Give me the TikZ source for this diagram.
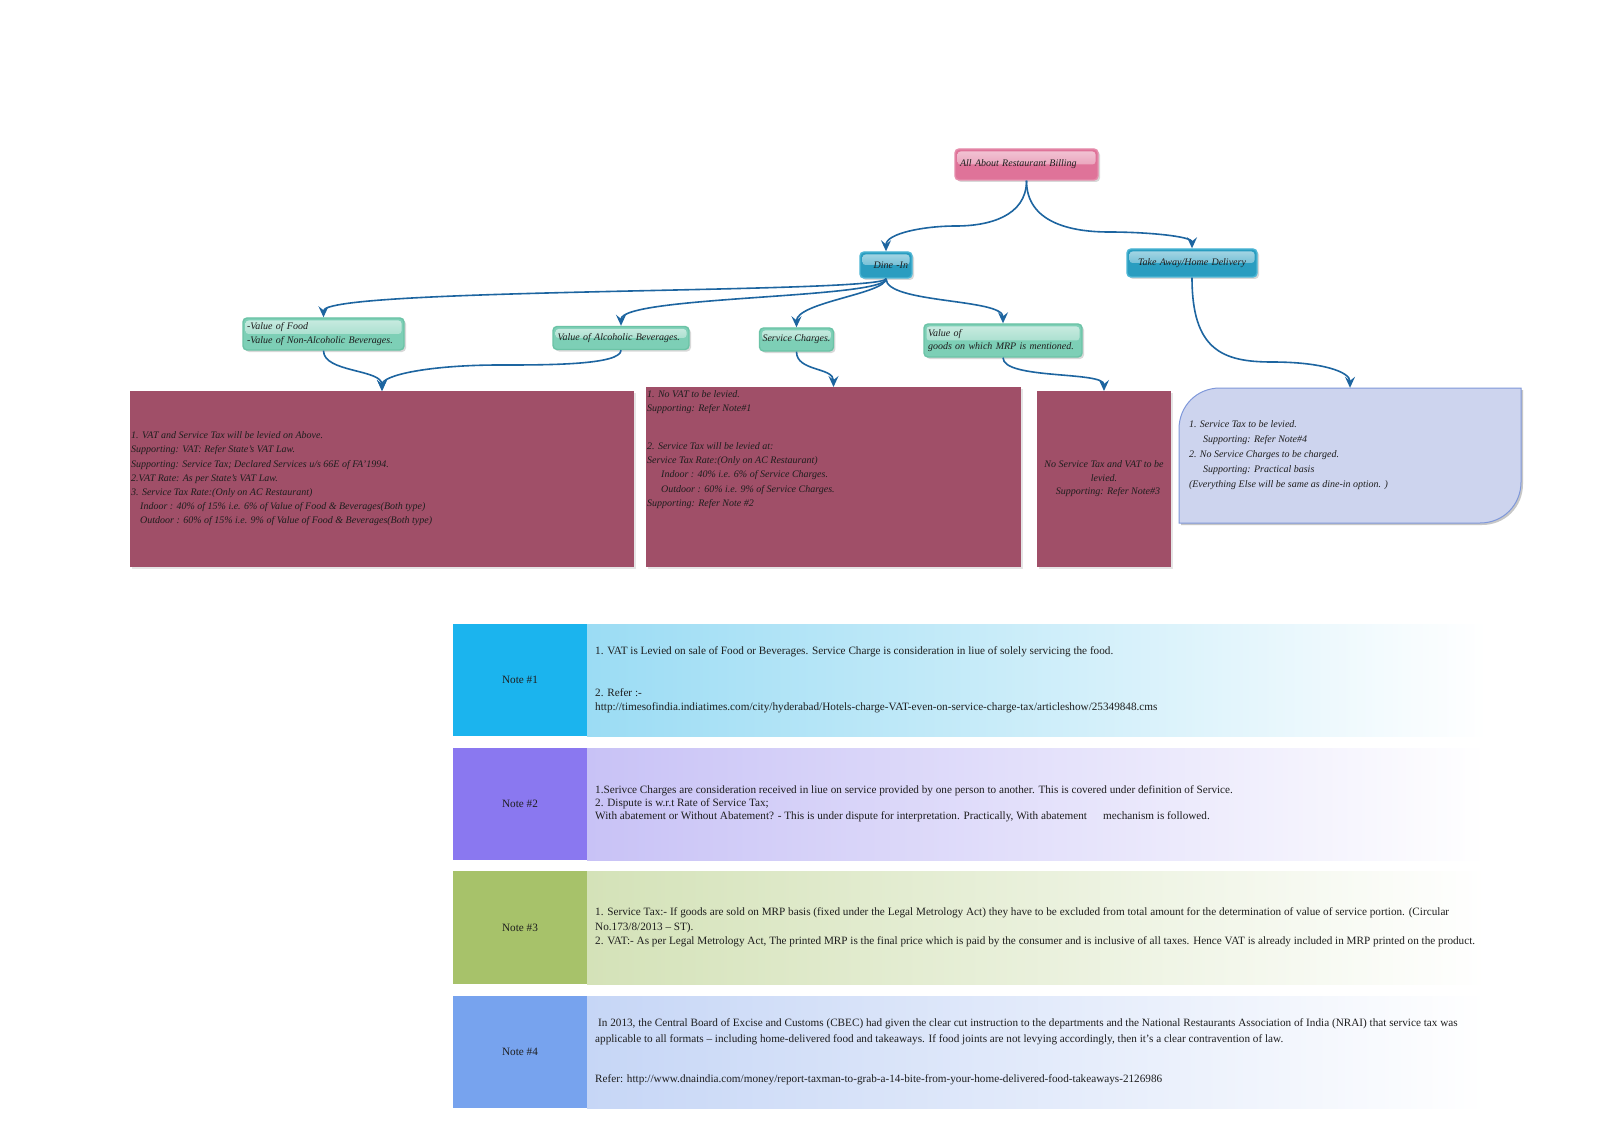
\documentclass[tikz,border=0pt]{standalone}
\usepackage{fontspec}
\setmainfont{Liberation Serif}
\usetikzlibrary{arrows.meta,shadows,calc}
\definecolor{rootf}{HTML}{DF7399}
\definecolor{rootd}{HTML}{E68DAC}
\definecolor{tealf}{HTML}{2A9DC0}
\definecolor{teald}{HTML}{4CB6D5}
\definecolor{greenf}{HTML}{7DCFB6}
\definecolor{greend}{HTML}{6BC3A6}
\definecolor{maroonc}{HTML}{A04F68}
\definecolor{bluef}{HTML}{CDD4EE}
\definecolor{blued}{HTML}{7F98DA}
\definecolor{arrowc}{HTML}{1D65A0}
\definecolor{nAc}{HTML}{1BB4EE}
\definecolor{nAg}{HTML}{9BDCF4}
\definecolor{nBc}{HTML}{8A78F0}
\definecolor{nBg}{HTML}{C8C2F6}
\definecolor{nCc}{HTML}{A7C26A}
\definecolor{nCg}{HTML}{D4E2B8}
\definecolor{nDc}{HTML}{77A3EE}
\definecolor{nDg}{HTML}{C6D6F6}
\definecolor{txt}{HTML}{1E1E1E}
\begin{document}
\begin{tikzpicture}[x=1pt,y=-1pt,
  conn/.style={draw=arrowc, line width=1.6pt, -{Stealth[length=11pt,width=10pt,inset=4pt]}},
  gloss/.style={path picture={\shade[top color=white!60!#1, bottom color=white!12!#1, rounded corners=3pt] ([xshift=2.5pt,yshift=-2.5pt]path picture bounding box.north west) rectangle ([xshift=-2.5pt]path picture bounding box.east);}},
  bubble/.style={rounded corners=4pt, line width=1.4pt, inner xsep=4pt, inner ysep=0pt,
     font=\fontsize{10}{13}\selectfont\itshape, text=txt,
     drop shadow={shadow xshift=2pt,shadow yshift=-2pt,opacity=0.3}},
  rootbox/.style={bubble, fill=rootf, draw=rootd, gloss=rootf},
  tealbox/.style={bubble, fill=tealf, draw=teald, gloss=tealf},
  greenbox/.style={bubble, fill=greenf, draw=greend, gloss=greenf},
  maroonbox/.style={fill=maroonc, draw=none, inner sep=0pt, outer sep=0pt,
     drop shadow={shadow xshift=2pt,shadow yshift=-2pt,opacity=0.2}},
  boxtext/.style={inner sep=0pt, text=txt, font=\fontsize{10}{14.2}\selectfont\itshape, align=left},
  notelabel/.style={inner sep=0pt, outer sep=0pt, text=txt, font=\fontsize{11.2}{13}\selectfont,
     minimum width=134pt, minimum height=112pt},
  notebody/.style={inner sep=0pt, outer sep=0pt, minimum width=900pt, minimum height=112pt, anchor=west},
  notetext/.style={inner sep=0pt, text=txt, align=left, anchor=west}
]
\useasboundingbox (0,0) rectangle (1600,1131);
\fill[white] (0,0) rectangle (1600,1131);

% --- tree nodes
\node[rootbox, minimum width=143pt, minimum height=31pt, text width=133pt, align=left] (root) at (1026.5,164.5) {All About Restaurant Billing};
\node[tealbox, minimum width=52pt, minimum height=26pt, text width=44pt, align=right] (dine) at (886,265) {Dine -In};
\node[tealbox, minimum width=130pt, minimum height=28pt, text width=122pt, align=center] (take) at (1192,263) {Take Away/Home Delivery};

\node[greenbox, minimum width=161pt, minimum height=32pt, text width=153pt, align=left, font=\fontsize{10}{14}\selectfont\itshape] (n1) at (323.5,334) {-Value of Food\\-Value of Non-Alcoholic Beverages.};
\node[greenbox, minimum width=136pt, minimum height=23pt, text width=127pt, align=left] (n2) at (621,338) {Value of Alcoholic Beverages.};
\node[greenbox, minimum width=73pt, minimum height=23pt, inner xsep=3pt] (n3) at (796.5,339.5) {Service Charges.};
\node[greenbox, minimum width=158pt, minimum height=33pt, text width=150pt, align=left] (n4) at (1003,340.5) {Value of\\goods on which MRP is mentioned.};

% --- result boxes
\node[maroonbox, minimum width=504pt, minimum height=176pt] (boxA) at (382,479) {};
\node[maroonbox, minimum width=375pt, minimum height=180pt] (boxB) at (833.5,477) {};
\node[maroonbox, minimum width=134pt, minimum height=176pt] (boxC) at (1104,479) {};
\node[inner sep=0pt, minimum width=342pt, minimum height=135pt] (blue) at (1350,455.5) {};
\fill[black!22] (1181,525) -- (1181,431) .. controls (1181,408.4) and (1198.4,390) .. (1222,390) -- (1523,390) -- (1523,484) .. controls (1523,506.6) and (1505.6,525) .. (1482,525) -- cycle;
\filldraw[fill=bluef, draw=blued, line width=1pt] (1179,523) -- (1179,429) .. controls (1179,406.4) and (1196.4,388) .. (1220,388) -- (1521,388) -- (1521,482) .. controls (1521,504.6) and (1503.6,523) .. (1480,523) -- cycle;

\node[boxtext, anchor=west] (ta) at ($(boxA.west)+(1,0)$) {1. VAT and Service Tax will be levied on Above.\\
Supporting: VAT: Refer State's VAT Law.\\
Supporting: Service Tax; Declared Services u/s 66E of FA'1994.\\
2.VAT Rate: As per State's VAT Law.\\
3. Service Tax Rate:(Only on AC Restaurant)\\
\hspace*{9pt}Indoor : 40\% of 15\% i.e. 6\% of Value of Food \& Beverages(Both type)\\
\hspace*{9pt}Outdoor : 60\% of 15\% i.e. 9\% of Value of Food \& Beverages(Both type)};

\node[boxtext, anchor=north west] (tb) at ($(boxB.north west)+(1,3)$) {1. No VAT to be levied.\\
Supporting: Refer Note\#1\\[24pt]
2. Service Tax will be levied at:\\
Service Tax Rate:(Only on AC Restaurant)\\
\hspace*{14pt}Indoor : 40\% i.e. 6\% of Service Charges.\\
\hspace*{14pt}Outdoor : 60\% i.e. 9\% of Service Charges.\\
Supporting: Refer Note \#2};

\node[boxtext, align=center, font=\fontsize{10}{13.5}\selectfont\itshape] (tc) at (boxC.center) {No Service Tax and VAT to be\\levied.\\\hspace*{8pt}Supporting: Refer Note\#3};

\node[boxtext, anchor=west, font=\fontsize{10}{15}\selectfont\itshape] (td) at ($(blue.west)+(10,0)$) {1. Service Tax to be levied.\\
\hspace*{14pt}Supporting: Refer Note\#4\\
2. No Service Charges to be charged.\\
\hspace*{14pt}Supporting: Practical basis\\
(Everything Else will be same as dine-in option. )};

% --- connectors
\coordinate (m1) at (956,226);
\coordinate (m2) at (1109,232);
\coordinate (m3) at (1272,362);
\coordinate (m4) at (500,365);
\draw[conn] (root.south) .. controls +(0,36) and +(32,0) .. (m1) .. controls +(-32,0) and +(0,-18) .. (dine.north);
\draw[conn] (root.south) .. controls +(0,42) and +(-38,0) .. (m2) .. controls +(38,0) and +(0,-12) .. (take.north);
\draw[conn] (dine.south) .. controls +(0,15) and +(0,-30) .. (n1.north);
\draw[conn] (dine.south) .. controls +(0,20) and +(0,-30) .. (n2.north);
\draw[conn] (dine.south) .. controls +(0,15) and +(0,-25) .. (n3.north);
\draw[conn] (dine.south) .. controls +(0,25) and +(0,-25) .. (n4.north);
\draw[conn] (n1.south) .. controls +(0,22) and +(0,-22) .. (boxA.north);
\draw[conn] (n2.south) .. controls +(0,15) and +(45,0) .. (m4) .. controls +(-70,0) and +(0,-16) .. (boxA.north);
\draw[conn] (n3.south) .. controls +(0,20) and +(0,-20) .. (boxB.north);
\draw[conn] (n4.south) .. controls +(0,22) and +(0,-20) .. (boxC.north);
\draw[conn] (take.south) .. controls +(0,72) and +(-50,0) .. (m3) .. controls +(50,0) and +(0,-16) .. (blue.north);

% --- notes
\node[notelabel, fill=nAc] (note1) at (520,680) {Note \#1};
\node[notebody, left color=nAg, right color=white] (body1) at (note1.east) {};
\node[notetext, font=\fontsize{11.2}{14}\selectfont] (nt1) at ($(body1.west)+(8,0)$) {1. VAT is Levied on sale of Food or Beverages. Service Charge is consideration in liue of solely servicing the food.\\[28pt]
2. Refer :-\\
http://timesofindia.indiatimes.com/city/hyderabad/Hotels-charge-VAT-even-on-service-charge-tax/articleshow/25349848.cms};

\node[notelabel, fill=nBc] (note2) at (520,804) {Note \#2};
\node[notebody, left color=nBg, right color=white] (body2) at (note2.east) {};
\node[notetext, font=\fontsize{11.2}{13}\selectfont] (nt2) at ($(body2.west)+(8,0)$) {1.Serivce Charges are consideration received in liue on service provided by one person to another. This is covered under definition of Service.\\
2. Dispute is w.r.t Rate of Service Tax;\\
With abatement or Without Abatement? - This is under dispute for interpretation. Practically, With abatement\hspace*{16pt}mechanism is followed.};

\node[notelabel, fill=nCc, minimum height=113pt] (note3) at (520,927.5) {Note \#3};
\node[notebody, left color=nCg, right color=white, minimum height=113pt] (body3) at (note3.east) {};
\node[notetext, font=\fontsize{11.2}{14.5}\selectfont] (nt3) at ($(body3.west)+(8,0)$) {1. Service Tax:- If goods are sold on MRP basis (fixed under the Legal Metrology Act) they have to be excluded from total amount for the determination of value of service portion. (Circular\\
No.173/8/2013 – ST).\\
2. VAT:- As per Legal Metrology Act, The printed MRP is the final price which is paid by the consumer and is inclusive of all taxes. Hence VAT is already included in MRP printed on the product.};

\node[notelabel, fill=nDc] (note4) at (520,1052) {Note \#4};
\node[notebody, left color=nDg, right color=white] (body4) at (note4.east) {};
\node[notetext, font=\fontsize{11.2}{16.5}\selectfont] (nt4) at ($(body4.west)+(8,0)$) {\hspace*{3pt}In 2013, the Central Board of Excise and Customs (CBEC) had given the clear cut instruction to the departments and the National Restaurants Association of India (NRAI) that service tax was\\
applicable to all formats – including home-delivered food and takeaways. If food joints are not levying accordingly, then it's a clear contravention of law.\\[23.5pt]
Refer: http://www.dnaindia.com/money/report-taxman-to-grab-a-14-bite-from-your-home-delivered-food-takeaways-2126986};
\end{tikzpicture}
\end{document}
